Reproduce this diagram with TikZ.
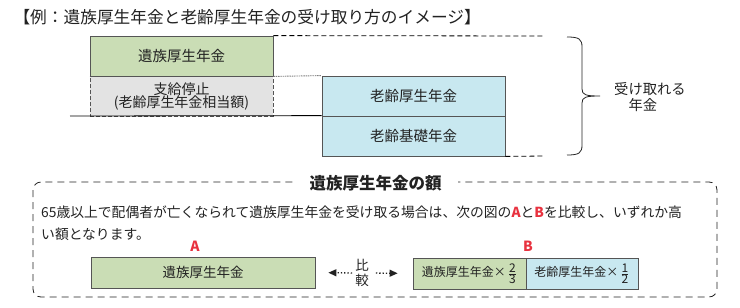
\documentclass[tikz,border=0pt]{standalone}
\usepackage{fontspec}
\setmainfont{Noto Sans CJK JP}
\usepackage{tikz}
\usetikzlibrary{arrows.meta,calc,positioning}

\definecolor{kouseiGreen}{HTML}{CADDB5}
\definecolor{roureiBlue}{HTML}{C8E8F0}
\definecolor{teishiGray}{HTML}{E3E3E3}
\definecolor{markRed}{HTML}{E8323F}
\definecolor{edgeGray}{HTML}{555555}
\definecolor{inkGray}{HTML}{222222}

\newcommand{\fsz}[1]{\fontsize{#1}{#1}\selectfont}
\newcommand{\smallfrac}[2]{\ensuremath{\frac{\mbox{\fsz{12}#1}}{\mbox{\fsz{12}#2}}}}

\begin{document}
\begin{tikzpicture}[x=1pt,y=-1pt,
  every node/.style={text=inkGray},
  pbox/.style={draw=edgeGray,line width=0.8pt,minimum width=183pt,minimum height=40pt,inner sep=0pt,font=\fsz{14.5}},
  cbox/.style={draw=edgeGray,line width=0.8pt,minimum height=31pt,inner sep=0pt},
  cmpArrow/.style={-{Triangle[length=8pt,width=7pt]},dotted,line width=1.3pt,inkGray},
  redMark/.style={text=markRed,font=\fsz{14}\bfseries}]
\useasboundingbox (0,0) rectangle (740,308);

% Title
\node[anchor=west,font=\fsz{16.7}] (title) at (10,17) {【例：遺族厚生年金と老齢厚生年金の受け取り方のイメージ】};

% Upper image: pension boxes
\node[pbox,fill=kouseiGreen] (izoku) at (181.5,56) {遺族厚生年金};
\node[pbox,fill=teishiGray,dashed,dash pattern=on 4pt off 2pt,align=center,font=\fsz{14}] (teishi) at (181.5,96)
  {支給停止\\[-1pt](老齢厚生年金相当額)};
\node[pbox,fill=roureiBlue] (kousei) at (413.5,96) {老齢厚生年金};
\node[pbox,fill=roureiBlue] (kiso) at (413.5,136) {老齢基礎年金};
\draw[edgeGray,line width=0.8pt] (izoku.south west) -- (izoku.south east);

% Base line and guide lines
\coordinate (baseL) at (70,116);
\coordinate (topR) at (545,36);
\coordinate (botR) at (545,156);
\draw[black,line width=0.8pt] (baseL) -- (kiso.north west);
\draw[black,line width=0.8pt,dash pattern=on 5pt off 3pt] (izoku.north east) -- (topR);
\draw[black,line width=0.8pt,dash pattern=on 5pt off 3pt] (kiso.south east) -- (botR);
\draw[gray,line width=0.9pt,dash pattern=on 1.5pt off 0.8pt] (izoku.south east) -- (kousei.north west);

% Brace
\draw[inkGray,line width=0.8pt] (567,37) .. controls (579,37) and (582,39) .. (582,47) -- (582,89)
  .. controls (582,95) and (586,96) .. (600,96)
  .. controls (586,96) and (582,97) .. (582,103) -- (582,145)
  .. controls (582,153) and (579,155) .. (567,155);
\node[anchor=west,align=left,font=\fsz{14.3},inner sep=0pt] (uketori) at (614,97) {受け取れる\\[1pt]\hspace*{1em}年金};

% Lower frame
\draw[inkGray,line width=0.8pt,dash pattern=on 7pt off 5pt,rounded corners=8pt] (33,182) rectangle (717,297);
\node[fill=white,inner xsep=16pt,font=\fsz{16.5}\bfseries] (frameHead) at (375.5,183) {遺族厚生年金の額};
\node[anchor=west,font=\fsz{13.8},inner sep=0pt] (desc1) at (41,212)
  {65歳以上で配偶者が亡くなられて遺族厚生年金を受け取る場合は、次の図の{\color{markRed}\bfseries A}と{\color{markRed}\bfseries B}を比較し、いずれか高};
\node[anchor=west,font=\fsz{13.8},inner sep=0pt] (desc2) at (41,234) {い額となります。};

% A and B
\node[cbox,fill=kouseiGreen,minimum width=224pt,font=\fsz{13.5}] (boxA) at (203,272.5) {遺族厚生年金};
\node[cbox,fill=kouseiGreen,minimum width=113pt,font=\fsz{12}] (boxB1) at (469.5,273.5) {遺族厚生年金×\,\smallfrac{2}{3}};
\node[cbox,fill=roureiBlue,minimum width=112pt,font=\fsz{12}] (boxB2) at (582,273.5) {老齢厚生年金×\,\smallfrac{1}{2}};
\node[redMark] (markA) at (195,246) {A};
\node[redMark] (markB) at (528,246) {B};

% Comparison
\node[align=center,font=\fsz{13.5},inner sep=2pt] (cmp) at (362,273) {比\\[1pt]較};
\draw[cmpArrow,shorten <=1pt,shorten >=13pt] (cmp.west) -- (boxA.east);
\draw[cmpArrow,shorten <=5pt,shorten >=15pt] (cmp.east) -- (boxB1.west);
\end{tikzpicture}
\end{document}
